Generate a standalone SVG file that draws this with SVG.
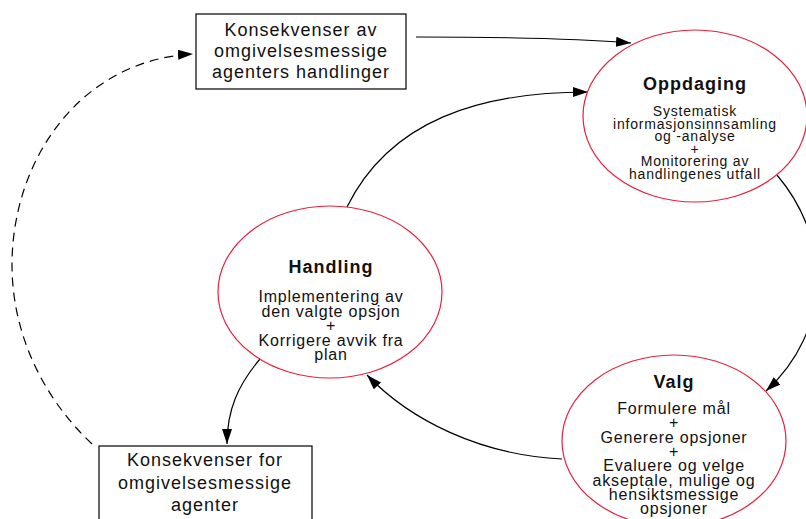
<svg xmlns="http://www.w3.org/2000/svg" width="806" height="519" viewBox="0 0 806 519">
<defs>
<marker id="arr" markerUnits="userSpaceOnUse" markerWidth="16" markerHeight="10" refX="15" refY="5" orient="auto">
<path d="M0,0 L15,5 L0,10 Z" fill="#000"/>
</marker>
<style>
.ell{fill:#fff;stroke:#e8203c;stroke-width:1.2}
.box{fill:#fff;stroke:#000;stroke-width:1.2}
.ttl{font-family:"Liberation Sans",Arial,sans-serif;font-size:18px;font-weight:bold;letter-spacing:1px;fill:#111;text-anchor:middle}
.b16{font-family:"Liberation Sans",Arial,sans-serif;font-size:16px;letter-spacing:0.8px;fill:#111;text-anchor:middle}
.b14{font-family:"Liberation Sans",Arial,sans-serif;font-size:14px;letter-spacing:0.8px;fill:#111;text-anchor:middle}
.bx{font-family:"Liberation Sans",Arial,sans-serif;font-size:18px;letter-spacing:1px;fill:#111;text-anchor:middle}
.con{fill:none;stroke:#000;stroke-width:1.2}
</style>
</defs>
<rect width="806" height="519" fill="#fff"/>
<g id="connectors">
<path class="con" d="M416,37 Q560,37 631,43" marker-end="url(#arr)"/>
<path class="con" d="M347,207 C390,120 480,92 588,92" marker-end="url(#arr)"/>
<path class="con" d="M777,175 C832,240 832,330 766,391" marker-end="url(#arr)"/>
<path class="con" d="M562,459 C480,455 410,420 367,375" marker-end="url(#arr)"/>
<path class="con" d="M260,359 C238,385 227,410 227,444" marker-end="url(#arr)"/>
<path class="con" d="M92,444 C40,395 12,330 12,265 C12,160 80,60 193,54" stroke-dasharray="9 6" marker-end="url(#arr)"/>
</g>
<g id="oppdaging">
<ellipse class="ell" cx="695" cy="116" rx="112" ry="86"/>
<text class="ttl" x="695" y="90">Oppdaging</text>
<text class="b14" x="695" y="116">Systematisk</text>
<text class="b14" x="695" y="128.5">informasjonsinnsamling</text>
<text class="b14" x="695" y="141">og -analyse</text>
<text class="b14" x="695" y="153.5">+</text>
<text class="b14" x="695" y="166">Monitorering av</text>
<text class="b14" x="695" y="178.5">handlingenes utfall</text>
</g>
<g id="handling">
<ellipse class="ell" cx="330" cy="292" rx="112" ry="86"/>
<text class="ttl" x="331" y="273">Handling</text>
<text class="b16" x="331" y="302">Implementering av</text>
<text class="b16" x="331" y="316.5">den valgte opsjon</text>
<text class="b16" x="331" y="331">+</text>
<text class="b16" x="331" y="345.5">Korrigere avvik fra</text>
<text class="b16" x="331" y="360">plan</text>
</g>
<g id="valg">
<ellipse class="ell" cx="674" cy="441" rx="112" ry="86"/>
<text class="ttl" x="674" y="388">Valg</text>
<text class="b16" x="674" y="414">Formulere mål</text>
<text class="b16" x="674" y="428.3">+</text>
<text class="b16" x="674" y="442.6">Generere opsjoner</text>
<text class="b16" x="674" y="456.9">+</text>
<text class="b16" x="674" y="471.2">Evaluere og velge</text>
<text class="b16" x="674" y="485.5">akseptale, mulige og</text>
<text class="b16" x="674" y="499.8">hensiktsmessige</text>
<text class="b16" x="674" y="514.1">opsjoner</text>
</g>
<g id="konsekvenser-av">
<rect class="box" x="196" y="14" width="210" height="75"/>
<text class="bx" x="301" y="36">Konsekvenser av</text>
<text class="bx" x="301" y="57">omgivelsesmessige</text>
<text class="bx" x="301" y="78">agenters handlinger</text>
</g>
<g id="konsekvenser-for">
<rect class="box" x="99" y="446" width="213" height="90"/>
<text class="bx" x="205" y="466">Konsekvenser for</text>
<text class="bx" x="205" y="489">omgivelsesmessige</text>
<text class="bx" x="205" y="511">agenter</text>
</g>
</svg>
